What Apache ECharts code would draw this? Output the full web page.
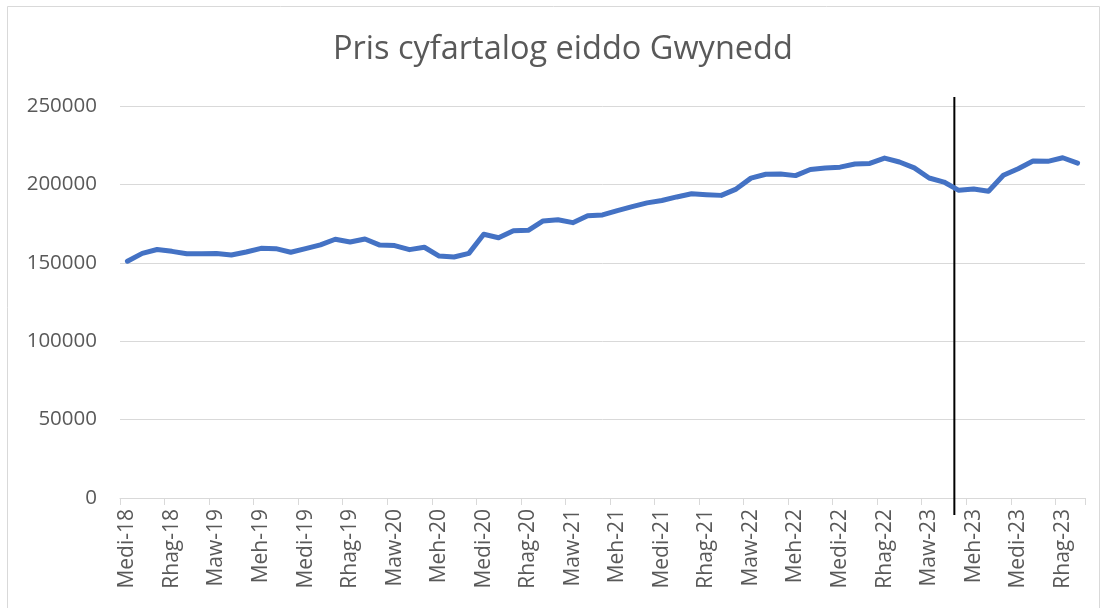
<!DOCTYPE html>
<html>
<head>
<meta charset="utf-8">
<script src="https://cdn.jsdelivr.net/npm/echarts@6/dist/echarts.min.js"></script>
<style>
  html, body { margin: 0; padding: 0; background: #fff; }
  #main { width: 1103px; height: 608px; }
</style>
</head>
<body>
<div id="main"></div>
<script>
// enwau misoedd (Cymraeg) a'r flwyddyn gyntaf
var monthNames = ['Ion', 'Chwef', 'Maw', 'Ebr', 'Mai', 'Meh', 'Gorff', 'Awst', 'Medi', 'Hyd', 'Tach', 'Rhag'];
var startMonth = 8; // Medi
var startYear = 18;

// pris cyfartalog, Medi-18 .. Ion-24
var prices = [
  151000, 156000, 158500, 157300, 155800, 155800, 156000, 155000, 156900, 159200,
  159000, 156700, 159000, 161400, 165000, 163300, 165200, 161300, 161000, 158400,
  159900, 154300, 153700, 156000, 168200, 166000, 170500, 170700, 176700, 177500,
  175600, 180000, 180500, 183300, 185800, 188200, 189700, 192000, 194000, 193400,
  193000, 197000, 204000, 206500, 206600, 205600, 209500, 210500, 211000, 213000,
  213400, 216800, 214300, 210500, 204100, 201500, 196200, 197100, 195600, 205800,
  210000, 214900, 214700, 217000, 213600
];

// y ticks
var yMax = 250000;
var yStep = 50000;

// llinell fertigol (rhwng Maw-23 a Meh-23)
var markerPos = 55.7;
var markerRange = [255700, -10800];

var categories = [];
for (var i = 0; i < prices.length; i++) {
  var m = (startMonth + i) % 12;
  var y = startYear + Math.floor((startMonth + i) / 12);
  categories.push(monthNames[m] + '-' + y);
}

var myChart = echarts.init(document.getElementById('main'));

var textColor = '#595959';
var font = 'Open Sans';

myChart.setOption({
  backgroundColor: '#fff',
  animation: false,
  title: {
    text: 'Pris cyfartalog eiddo Gwynedd',
    left: 333,
    top: 33,
    padding: 0,
    textStyle: { fontFamily: font, fontSize: 32.5, fontWeight: 'normal', color: textColor }
  },
  graphic: [{
    type: 'rect',
    shape: { x: 7.5, y: 6.5, width: 1092, height: 610 },
    style: { fill: null, stroke: '#d9d9d9', lineWidth: 1 },
    silent: true
  }],
  grid: { left: 120, right: 18, top: 106, bottom: 110 },
  xAxis: {
    type: 'category',
    data: categories,
    boundaryGap: true,
    axisLine: { lineStyle: { color: '#d9d9d9', width: 1 } },
    axisTick: { show: true, interval: 2, length: 7, lineStyle: { color: '#d9d9d9' } },
    axisLabel: {
      interval: 2,
      rotate: 90,
      margin: 11,
      fontFamily: font,
      fontSize: 21,
      color: textColor
    }
  },
  yAxis: {
    type: 'value',
    min: 0,
    max: yMax,
    interval: yStep,
    axisLine: { show: false },
    axisTick: { show: false },
    splitLine: { lineStyle: { color: '#d9d9d9', width: 1 } },
    axisLabel: {
      margin: 23,
      fontFamily: font,
      fontSize: 20.5,
      color: textColor,
      formatter: function (v) { return String(v); }
    }
  },
  series: [{
    type: 'line',
    data: prices,
    symbol: 'none',
    lineStyle: { color: '#4472c4', width: 5, cap: 'round', join: 'round' },
    itemStyle: { color: '#4472c4' }
  }, {
    type: 'custom',
    clip: false,
    silent: true,
    data: [[markerPos, markerRange[0], markerRange[1]]],
    renderItem: function (params, api) {
      var pos = api.value(0);
      var lo = Math.floor(pos);
      var f = pos - lo;
      var a1 = api.coord([lo, api.value(1)]);
      var b1 = api.coord([lo + 1, api.value(1)]);
      var a2 = api.coord([lo, api.value(2)]);
      var x = a1[0] + f * (b1[0] - a1[0]);
      return {
        type: 'line',
        shape: { x1: x, y1: a1[1], x2: x, y2: a2[1] },
        style: { stroke: '#000', lineWidth: 2 }
      };
    }
  }]
});
</script>
</body>
</html>
